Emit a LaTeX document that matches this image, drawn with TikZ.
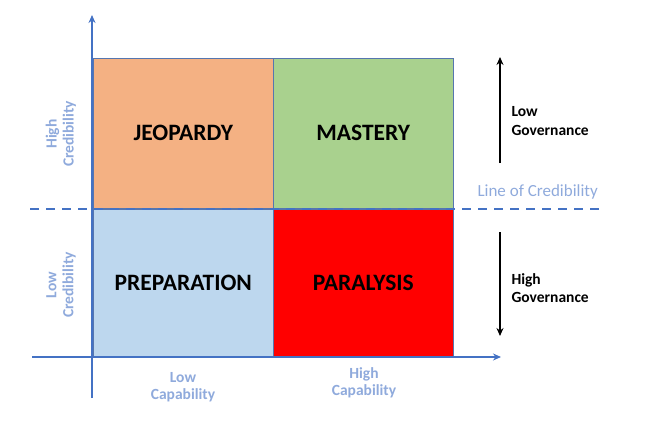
\documentclass[tikz,border=0pt]{standalone}
\usepackage{fontspec}
\setmainfont{Carlito}
\usetikzlibrary{arrows.meta}
\definecolor{axisblue}{HTML}{4472C4}
\definecolor{lblblue}{HTML}{8FAADC}
\definecolor{qorange}{HTML}{F4B183}
\definecolor{qgreen}{HTML}{A9D18E}
\definecolor{qblue}{HTML}{BDD7EE}
\definecolor{qred}{HTML}{FF0000}
\tikzset{
  quad/.style={draw=axisblue!70!gray, line width=0.6pt, minimum width=180pt, minimum height=150pt, inner sep=0pt, anchor=north west, font=\fontsize{23.5}{26}\selectfont\bfseries},
  axislbl/.style={text=lblblue, font=\fontsize{15.5}{17}\selectfont\bfseries, align=center},
  govlbl/.style={font=\fontsize{15.5}{18.5}\selectfont\bfseries, align=left, anchor=west},
  axisline/.style={draw=axisblue, line width=1.6pt, -{Stealth[length=8pt,width=7pt]}},
  govarrow/.style={draw=black, line width=1.4pt, -{Stealth[length=8pt,width=7pt]}}
}
\begin{document}
\begin{tikzpicture}[x=1pt,y=-1pt]
\useasboundingbox (0,0) rectangle (650,431);
\node[quad, fill=qorange] (jeo) at (93,58) {JEOPARDY};
\node[quad, fill=qgreen] (mas) at (273,58) {MASTERY};
\node[quad, fill=qblue, minimum height=148pt] (pre) at (93,209) {PREPARATION};
\node[quad, fill=qred, minimum height=148pt] (par) at (273,209) {PARALYSIS};
% axes
\coordinate (ybot) at (92,398);
\coordinate (ytop) at (92,15);
\coordinate (xl) at (32,357);
\coordinate (xr) at (501,357);
\draw[axisline] (ybot) -- (ytop);
\draw[axisline] (xl) -- (xr);
% line of credibility
\coordinate (dl) at (30,209);
\coordinate (dr) at (602,209);
\draw[axisblue, line width=1.8pt, dash pattern=on 9pt off 7pt] (dl) -- (dr);
\node[text=lblblue, font=\fontsize{17}{19}\selectfont, anchor=west] (loc) at (474,192) {Line of Credibility};
% governance arrows
\coordinate (g1a) at (500,163);
\coordinate (g1b) at (500,57);
\coordinate (g2a) at (500,232);
\coordinate (g2b) at (500,336);
\draw[govarrow] (g1a) -- (g1b);
\draw[govarrow] (g2a) -- (g2b);
\node[govlbl] (lg) at (508,121) {Low\\Governance};
\node[govlbl] (hg) at (508,288) {High\\Governance};
% axis labels
\node[axislbl, rotate=90] (hc) at (61,134) {High\\Credibility};
\node[axislbl, rotate=90] (lc) at (61,285) {Low\\Credibility};
\node[axislbl] (lcap) at (183,387) {Low\\Capability};
\node[axislbl] (hcap) at (364,383) {High\\Capability};
\end{tikzpicture}
\end{document}
